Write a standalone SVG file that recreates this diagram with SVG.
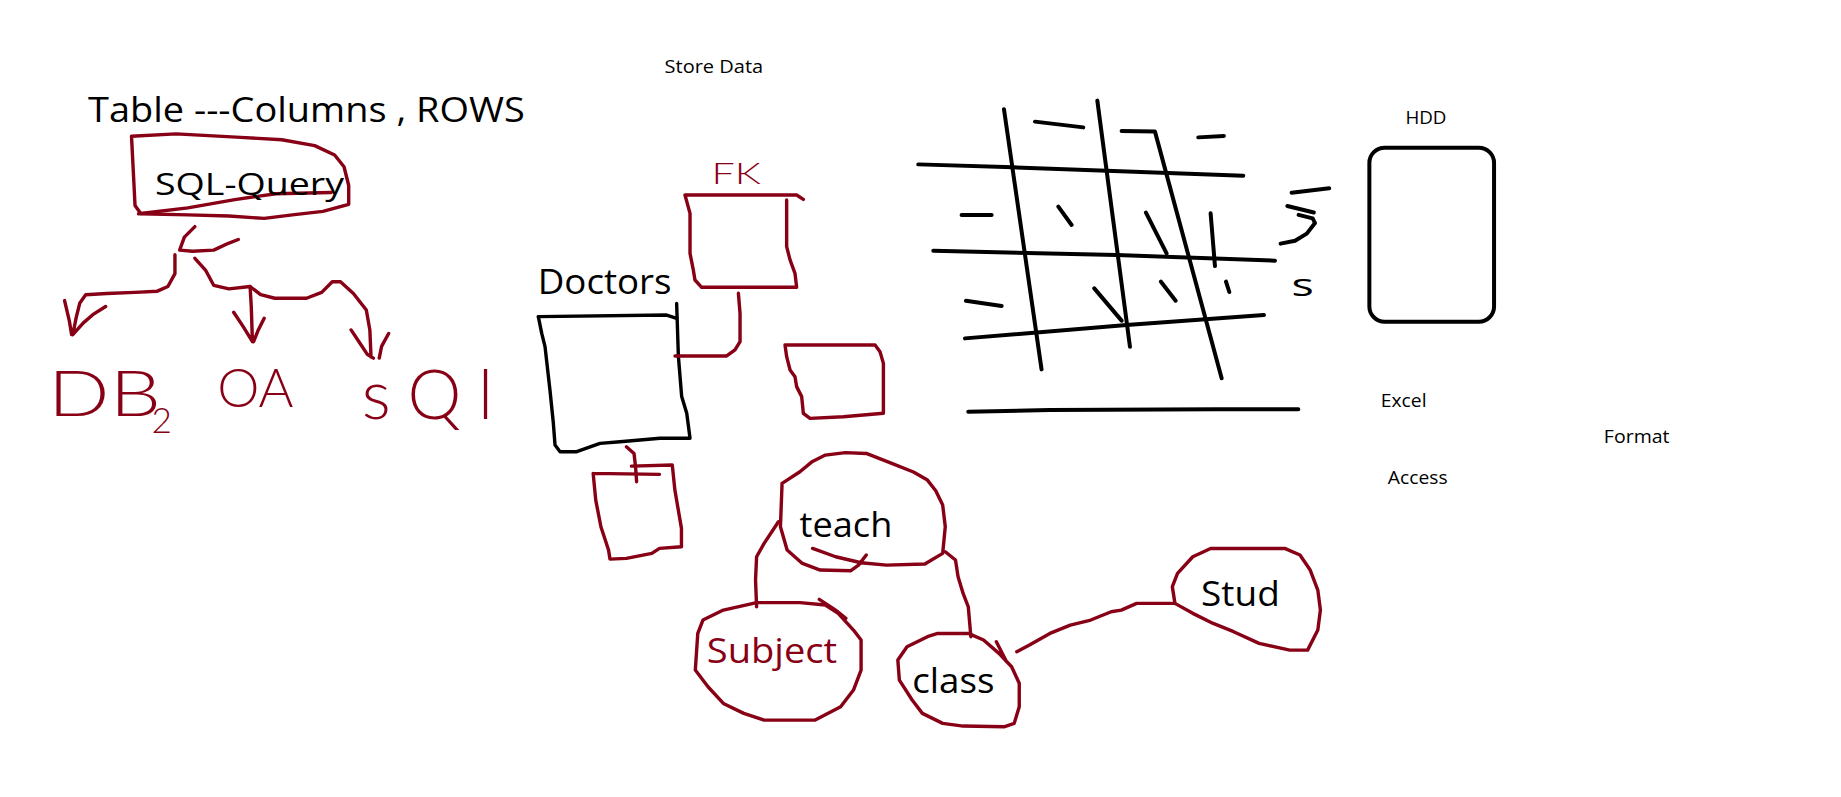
<svg xmlns="http://www.w3.org/2000/svg" width="1841" height="797" viewBox="0 0 1841 797">
<style>
.r{fill:none;stroke:#880015;stroke-width:2.9;stroke-linecap:round;stroke-linejoin:round}
.k{fill:none;stroke:#000;stroke-width:2.9;stroke-linecap:round;stroke-linejoin:round}
.g{fill:none;stroke:#000;stroke-width:3.4;stroke-linecap:round;stroke-linejoin:round}
.t{font-family:"Open Sans","Noto Sans","Liberation Sans",sans-serif;fill:#000}
.hw{font-family:Lato,"Liberation Sans",sans-serif;font-weight:300;fill:#880015}
</style>
<rect width="1841" height="797" fill="#fff"/>
<g transform="scale(1.17411)">
  <g id="labels">
    <text class="t" x="566" y="62" font-size="16" textLength="84" lengthAdjust="spacingAndGlyphs">Store Data</text>
    <text class="t" x="75" y="104" font-size="29" textLength="372" lengthAdjust="spacingAndGlyphs">Table ---Columns , ROWS</text>
  </g>
  <g id="sql-query">
    <path class="r" d="M112,116 L150,114 L205,117 L240,119 L268,124 L285,132 L293,142 L297,158 L297,174 L275,180 L249,183 L225,186 L195,184 L160,183 L120,182 L115,175 L114,155 Z"/>
    <path class="r" d="M118,182 L160,177 L200,170 L235,165 L282,164"/>
    <text class="t" x="132" y="166" font-size="27" textLength="161" lengthAdjust="spacingAndGlyphs">SQL-Query</text>
  </g>
  <g id="db2">
    <text class="hw" x="41" y="354" font-size="54" textLength="96" lengthAdjust="spacingAndGlyphs">DB</text>
    <text class="hw" x="129" y="369" font-size="30">2</text>
  </g>
  <g id="oa">
    <text class="hw" x="185" y="347" font-size="46" textLength="65" lengthAdjust="spacingAndGlyphs">OA</text>
  </g>
  <g id="sql">
    <text class="hw" x="308" y="357" font-size="58" textLength="112" lengthAdjust="spacing">sQl</text>
  </g>
  <g id="doctors">
    <text class="t" x="458" y="250" font-size="30" textLength="114" lengthAdjust="spacingAndGlyphs">Doctors</text>
    <path class="k" d="M458.5,269.7 L567.8,268.3 L576.3,271.1"/>
    <path class="k" d="M576.3,258.4 L577.8,303.8 L580.6,337.8 L584.9,352 L587.7,373.3 L562.1,373.3 L528.1,376.2 L511,377.6 L491.2,384.7 L477,384.7 L472.7,379 L471.3,360.5 L468.4,332.2 L464.2,295.2 L461.4,283.9 L458.5,269.7"/>
  </g>
  <g id="fk-table">
    <text class="hw" x="606" y="157" font-size="25" textLength="42" lengthAdjust="spacingAndGlyphs">FK</text>
    <path class="r" d="M583.4,166.1 L678.5,166.1 L684.2,169.8 M583.4,166.1 L587.7,181.7 L587.7,215.8 L590.5,230 L591.9,238.5 L597.6,244.7 L678.5,244.7 L677.1,232.8 L672.9,221.4 L670,210.1 L670,170.3"/>
  </g>
  <g id="table-right">
    <path class="r" d="M668.6,293.8 L745.3,293.8 L749.5,299.5 L752.4,309.5 L752.4,352 L718.3,354.9 L689.9,356.3 L684.2,352 L682.8,337.8 L678.5,329.3 L677.1,320.8 L672.9,315.1 L670,303.8 Z"/>
  </g>
  <g id="table-below">
    <path class="r" d="M505.2,403.2 L561.7,404 M537.8,397 L572.6,396.1 L574.8,417.4 L580.4,450 L580.4,465.7 L561.7,467.1 L555.2,471.3 L533.5,475.6 L519.5,476.2 L518.3,468.5 L511.8,448.6 L507.4,425.9 L505.2,403.2"/>
  </g>
  <g id="grid">
    <path class="g" d="M782.1,140 L862.8,142.5 L942.5,145.4 L1058.9,149.6"/>
    <path class="g" d="M794.9,213.5 L951,217.2 L1085.9,222"/>
    <path class="g" d="M821.9,288.2 L959.5,276.8 L1076.5,268.3"/>
    <path class="g" d="M824.7,350.6 L894.3,349.2 L1036.2,348.6 L1105.8,348.6"/>
    <path class="g" d="M855.1,93.1 L887.1,314.6"/>
    <path class="g" d="M934.6,85.7 L962.4,295.3"/>
    <path class="g" d="M955.3,111.6 L983.7,112.1 L1040.5,322.2"/>
    <path class="g" d="M881.5,103.6 L922.6,108.5 M1020.6,117 L1042.4,115.8 M819,183.1 L844.6,183.1 M901.4,176 L912.7,191.6 M976,181.1 L993.6,215.8 M1031.1,181.7 L1034.8,226.6 M822.7,256.1 L853.1,260.6 M932,245.6 L955.3,273.1 M988.8,239.9 L1001.3,256.1 M1044.2,239.9 L1047,248.7 M1100.1,164.1 L1132.1,160.4"/>
    <path class="g" d="M1096.4,175.5 L1119,181 M1106,183 L1118,186 L1120,190 L1113,199 L1103,205 L1090.7,207.5"/>
    <text class="t" x="1100" y="252" font-size="26" textLength="19" lengthAdjust="spacingAndGlyphs">s</text>
  </g>
  <g id="hdd">
    <text class="t" x="1197" y="106" font-size="16" textLength="35" lengthAdjust="spacingAndGlyphs">HDD</text>
    <rect class="g" x="1166.3" y="125.8" width="106.2" height="148.2" rx="13"/>
  </g>
  <g id="excel"><text class="t" x="1176" y="347" font-size="16" textLength="39" lengthAdjust="spacingAndGlyphs">Excel</text></g>
  <g id="format"><text class="t" x="1366" y="377" font-size="16" textLength="56" lengthAdjust="spacingAndGlyphs">Format</text></g>
  <g id="access"><text class="t" x="1182" y="412" font-size="16" textLength="51" lengthAdjust="spacingAndGlyphs">Access</text></g>
  <g id="teach">
    <path class="r" d="M666.1,411.7 L681.3,401.8 L692,393 L703,387.6 L720,385.5 L737.8,386.2 L759.5,394.7 L778,402 L789.9,408.9 L797,418 L802.9,430.2 L805.1,448.6 L802.9,471.3 L787.7,480.4 L755.1,481.3 L733.4,479.3 L711.7,474.2 L692.1,467.1 M666.1,411.7 L664.7,448.6 L670.4,468.5 L683.4,479.9 L698.6,485.5 L724.7,486.1 L731.2,481.3 L737.8,472.7"/>
    <text class="t" x="681" y="457" font-size="30" textLength="79" lengthAdjust="spacingAndGlyphs">teach</text>
  </g>
  <g id="subject">
    <path class="r" d="M644.4,513.3 L681.3,513.3 L703,515.3 L713.9,522.4 L726.9,536.6 L733.4,545.1 L733.4,570.7 L726.9,587.7 L716,601.9 L694.3,613.3 L650.8,613.3 L633.5,607.6 L616.1,599.1 L603,584.9 L592.2,570.7 L594.3,539.5 L598.7,528.1 L616.1,519.6 Z M697.8,510.5 L711.7,519.6 L720.4,526.7"/>
    <text x="602" y="565" font-size="30" textLength="111" lengthAdjust="spacingAndGlyphs" style="font-family:'Open Sans','Noto Sans','Liberation Sans',sans-serif;fill:#880015">Subject</text>
  </g>
  <g id="class">
    <path class="r" d="M798.6,539.5 L824.7,539.5 L837.7,545.1 L850.8,556.5 L861.6,567.9 L868.1,582 L868.1,601.9 L863.8,616.1 L855.1,619 L820.3,618.4 L802.9,616.1 L785.6,607.6 L776.9,596.2 L766,579.2 L764.7,562.2 L772.5,550.8 L789.9,542.3 Z M848.6,546.6 L857.3,563.6"/>
    <text class="t" x="777" y="590" font-size="30" textLength="70" lengthAdjust="spacingAndGlyphs">class</text>
  </g>
  <g id="stud">
    <path class="r" d="M1000.7,513.9 L998.5,499.7 L1002.9,488.4 L1015.9,474.2 L1031.1,467.1 L1094.2,467.1 L1107.2,472.7 L1115.9,485.5 L1122.4,502.6 L1124.6,519.6 L1122.4,536.6 L1113.7,553.7 L1098.5,553.7 L1072.4,548 L1050.7,538 L1033.3,531 L1015.9,522.4 Z"/>
    <text class="t" x="1023" y="516" font-size="30" textLength="67" lengthAdjust="spacingAndGlyphs">Stud</text>
  </g>
  <g id="connectors">
    <path class="r" d="M166,193 L157,202 L153,213 L164,214 L182,213 L195,207 L203,204"/>
    <path class="r" d="M149,217 L149,233 L143,244 L134,248 L115,249 L91,250 L73,251 L68,258 L65,270 L62,285 M55,256 L59,273 L61,285 M90,261 L79,268 L71,275 L62,285"/>
    <path class="r" d="M166,220 L175,230 L182,243 L195,246 L213,244 L214,261 L215,291 M199,266 L207,278 L215,291 M225,271 L220,281 L216,291"/>
    <path class="r" d="M213,244 L222,251 L234,254 L261,254 L274,249 L283,240 L290,240 L301,250 L312,264 L315,281 L316,304 M299,281 L307,293 L313,302 L318,305 M331,284 L325,295 L323,305"/>
    <path class="r" d="M574.9,303.2 L618.9,303.2 L626,298 L630.3,291 L630.3,266.9 L628.9,249.8"/>
    <path class="r" d="M533.5,380.5 L540,386.2 L541.3,397.5 L542.2,410.3"/>
    <path class="r" d="M663,444.4 L650.8,462.8 L644.4,474.2 L643.5,494 L644.4,516.8"/>
    <path class="r" d="M805.1,469.9 L813.8,477 L816,491.2 L820.3,505.4 L824.7,516.8 L826.9,542.3"/>
    <path class="r" d="M866,555.1 L876.8,549.4 L894.2,539.5 L911.6,532.4 L929,528.1 L946.4,521 L955,519.6 L968.1,513.9 L1000.7,513.9"/>
  </g>
</g>
</svg>
